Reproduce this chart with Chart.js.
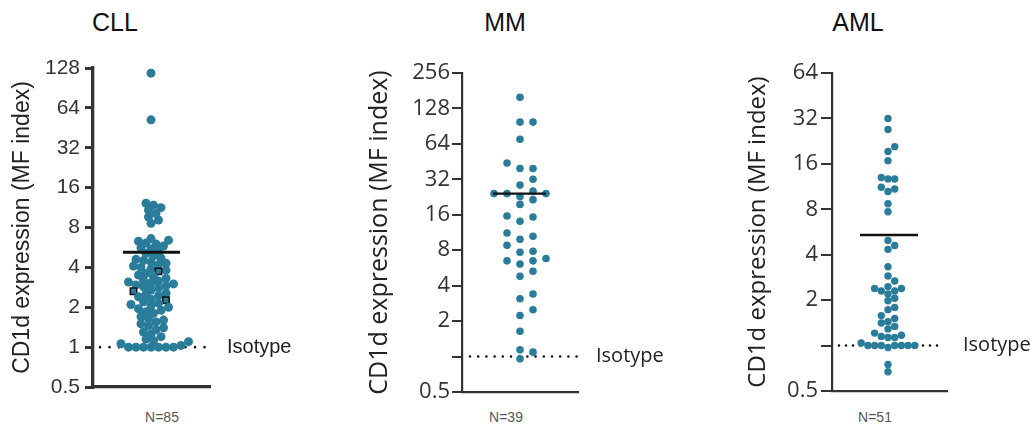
<!DOCTYPE html>
<html>
<head>
<meta charset="utf-8">
<script src="https://cdn.jsdelivr.net/npm/chart.js@4.4.1/dist/chart.umd.min.js"></script>
<style>
  body { margin: 0; background: #fff; width: 1032px; height: 437px; position: relative; overflow: hidden; font-family: "Liberation Sans", Arial, sans-serif; }
  canvas { position: absolute; top: 0; }
  .ttl { position: absolute; top: 8px; font-size: 25px; line-height: 28px; color: #111; transform: translateX(-50%); }
  .n { position: absolute; top: 409px; font-size: 14px; line-height: 16px; color: #555; transform: translateX(-50%); }
</style>
</head>
<body>
<div class="ttl" style="left:115px">CLL</div>
<div class="ttl" style="left:505px">MM</div>
<div class="ttl" style="left:858px">AML</div>
<div class="n" style="left:162px">N=85</div>
<div class="n" style="left:506px">N=39</div>
<div class="n" style="left:875px">N=51</div>

<canvas id="cll" width="300" height="437" style="left:0px"></canvas>
<canvas id="mm" width="323" height="437" style="left:345px"></canvas>
<canvas id="aml" width="317" height="437" style="left:715px"></canvas>

<script>
// CD1d expression (MF index) per patient
var cllValues = [117, 52,
  12.2, 11.8, 11.3, 10.8, 10.2, 9.6, 9.1, 8.6,
  6.6, 6.4, 6.3, 6.1, 6.0, 5.8, 5.6, 5.5, 5.3, 5.1,
  4.9, 4.7, 4.6, 4.5, 4.4, 4.3, 4.2, 4.1, 4.0, 3.9,
  3.8, 3.73, 3.6, 3.5, 3.4, 3.3, 3.2, 3.15, 3.1, 3.05, 3.0, 2.95, 2.9,
  2.85, 2.8, 2.7, 2.64, 2.55, 2.5, 2.45, 2.4, 2.3, 2.26, 2.2, 2.15, 2.1, 2.05, 2.0, 1.95,
  1.9, 1.85, 1.8, 1.7, 1.65, 1.6, 1.55, 1.5, 1.45, 1.4, 1.35, 1.3,
  1.25, 1.2, 1.15, 1.12, 1.1, 1.06, 1.03,
  1, 1, 1, 1, 1, 1, 1];
var cllMarked = [3.73, 2.64, 2.26];

var mmValues = [159, 98, 98, 70, 44, 39.5, 39.5, 32, 28.6, 25.4,
  24.2, 24.2, 24.2, 22.9, 21.5, 19.6, 15.6, 15.3, 14.1, 11.2,
  10.5, 9.9, 8.8, 7.85, 7.7, 6.8, 6.5, 6.5, 6.1, 5.3,
  4.8, 3.4, 3.1, 2.5, 2.23, 1.64, 1.14, 1.09, 0.956];

var amlValues = [32, 27, 20.8, 19.3, 16.8, 12.7, 12.7, 13.0, 11.2, 10.9,
  10.5, 8.7, 7.7, 4.97, 4.6, 4.34, 3.33, 2.89, 2.68, 2.39,
  2.39, 2.46, 2.3, 2.3, 2.2, 2.06, 1.98, 1.73, 1.79, 1.58,
  1.51, 1.41, 1.44, 1.29, 1.34, 1.21, 1.17, 1.13, 1.15, 1.13,
  1, 1, 1, 1, 1, 1, 1, 1.04, 0.97, 0.75, 0.67];

var cllMedian = 5.2;
var mmMedian = 24.2;
var amlMedian = 5.4;
var isotype = 1;

var cllTicks = [0.5, 1, 2, 4, 8, 16, 32, 64, 128];
var cllTickLabels = ['0.5', '1', '2', '4', '8', '16', '32', '64', '128'];
var mmTicks = [0.5, 1, 2, 4, 8, 16, 32, 64, 128, 256];
var mmTickLabels = ['0.5', '', '2', '4', '8', '16', '32', '64', '128', '256'];
var amlTicks = [0.5, 1, 2, 4, 8, 16, 32, 64];
var amlTickLabels = ['0.5', '', '2', '4', '8', '16', '32', '64'];

var teal = '#2a7c9b';

// simple beeswarm: spread points sideways so they don't sit on top of each other
function swarm(values, pxPerDoubling, step, gap) {
  var pts = values.map(function (v, i) { return { i: i, y: Math.log2(v) * pxPerDoubling }; });
  pts.sort(function (a, b) { return a.y - b.y; });
  var placed = [];
  var xs = [];
  pts.forEach(function (p) {
    for (var k = 0; k < 200; k++) {
      var off = k === 0 ? 0 : (k % 2 ? 1 : -1) * Math.ceil(k / 2) * step;
      var hit = placed.some(function (q) {
        var dx = q.x - off, dy = q.y - p.y;
        return dx * dx + dy * dy < gap * gap - 0.01;
      });
      if (!hit) { p.x = off; placed.push(p); xs[p.i] = off; break; }
    }
  });
  return xs;
}

function panel(id, o) {
  var xs = swarm(o.values, o.pxPerDoubling, o.step, o.gap);
  var pts = o.values.map(function (v, i) { return { x: xs[i], y: v }; });
  var marked = o.marked || [];

  new Chart(document.getElementById(id), {
    type: 'scatter',
    data: {
      datasets: [{
        data: pts,
        order: 1,
        pointRadius: o.r,
        pointStyle: function (c) { return marked.indexOf(c.raw.y) >= 0 ? 'rect' : 'circle'; },
        backgroundColor: teal,
        borderColor: function (c) { return marked.indexOf(c.raw.y) >= 0 ? '#111' : teal; },
        borderWidth: function (c) { return marked.indexOf(c.raw.y) >= 0 ? 1.5 : 0; }
      }, {
        data: [{ x: o.medX[0], y: o.median }, { x: o.medX[1], y: o.median }],
        showLine: true,
        order: 0,
        borderColor: '#111',
        borderWidth: o.medW,
        pointRadius: 0
      }, {
        data: [{ x: o.isoX[0], y: isotype }, { x: o.isoX[1], y: isotype }],
        showLine: true,
        order: 2,
        borderColor: '#111',
        borderWidth: 2.6,
        borderDash: [0, o.dotGap],
        borderCapStyle: 'round',
        pointRadius: 0
      }]
    },
    options: {
      responsive: false,
      animation: false,
      events: [],
      layout: { padding: { top: o.top, left: 0, right: 0, bottom: 0 } },
      plugins: { legend: { display: false }, tooltip: { enabled: false } },
      scales: {
        x: {
          type: 'linear', min: o.xMin, max: o.xMax,
          ticks: { display: false },
          grid: { display: false, drawTicks: false },
          border: { display: true, width: o.axisW, color: '#333' },
          afterFit: function (s) { s.height = 437 - o.bottom; }
        },
        y: {
          type: 'logarithmic', position: 'left',
          min: o.ticks[0], max: o.ticks[o.ticks.length - 1],
          afterBuildTicks: function (s) { s.ticks = o.ticks.map(function (v) { return { value: v }; }); },
          ticks: {
            autoSkip: false,
            padding: o.tickPad,
            color: '#333',
            font: { family: o.font, size: o.tickSize },
            callback: function (v) { return o.tickLabels[o.ticks.indexOf(v)]; }
          },
          grid: { drawOnChartArea: false, drawTicks: true, tickLength: o.tickLen, lineWidth: o.tickW, color: '#333' },
          border: { display: true, width: o.axisW, color: '#333' },
          title: {
            display: true, text: 'CD1d expression (MF index)', color: '#222',
            font: { family: o.font, size: o.titleSize },
            padding: { top: o.titlePad, bottom: 0 }
          },
          afterFit: function (s) { s.width = o.leftW; }
        },
        y2: {
          type: 'logarithmic', position: 'right',
          min: o.ticks[0], max: o.ticks[o.ticks.length - 1],
          afterBuildTicks: function (s) { s.ticks = [{ value: isotype }]; },
          ticks: {
            padding: o.isoPad, color: '#222',
            font: { family: o.font, size: o.isoSize },
            callback: function () { return 'Isotype'; }
          },
          grid: { display: false, drawTicks: false },
          border: { display: false },
          afterFit: function (s) { s.width = o.rightW; }
        }
      }
    }
  });
}

panel('cll', {
  values: cllValues, marked: cllMarked, median: cllMedian, ticks: cllTicks, tickLabels: cllTickLabels,
  pxPerDoubling: 39.9, step: 2.5, gap: 6.6, r: 4.5,
  xMin: -58, xMax: 59, medX: [-28, 29], isoX: [-51, 57], medW: 3, dotGap: 9.5,
  top: 68, bottom: 387, leftW: 93, rightW: 90,
  font: '"Liberation Sans", Arial, sans-serif', tickSize: 21, titleSize: 23, isoSize: 20,
  tickPad: 5, tickLen: 8, tickW: 3, axisW: 3.3, titlePad: 9, isoPad: 17
});

panel('mm', {
  values: mmValues, median: mmMedian, ticks: mmTicks, tickLabels: mmTickLabels,
  pxPerDoubling: 35.4, step: 13, gap: 7, r: 3.8,
  xMin: -58, xMax: 58, medX: [-27, 26], isoX: [-50, 57], medW: 2.2, dotGap: 8.2,
  top: 73, bottom: 392, leftW: 117, rightW: 90,
  font: '"Open Sans", sans-serif', tickSize: 22, titleSize: 25, isoSize: 20,
  tickPad: 2, tickLen: 10, tickW: 2, axisW: 2.2, titlePad: 20, isoPad: 18
});

panel('aml', {
  values: amlValues, median: amlMedian, ticks: amlTicks, tickLabels: amlTickLabels,
  pxPerDoubling: 45.4, step: 6.7, gap: 6.2, r: 3.7,
  xMin: -56, xMax: 59, medX: [-28, 30], isoX: [-49, 55], medW: 2.4, dotGap: 7,
  top: 73, bottom: 391, leftW: 117, rightW: 85,
  font: '"Open Sans", sans-serif', tickSize: 22, titleSize: 24, isoSize: 20,
  tickPad: 3, tickLen: 11, tickW: 2, axisW: 2.2, titlePad: 29, isoPad: 16
});
</script>
</body>
</html>
